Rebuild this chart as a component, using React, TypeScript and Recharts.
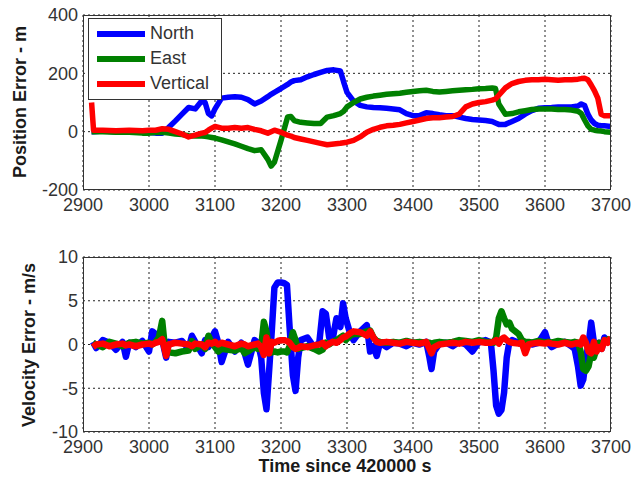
import { LineChart, Line, XAxis, YAxis, CartesianGrid, Legend } from 'recharts'

// top plot: position error (m)
const tTop = [
  2913, 2916, 2930, 2950, 2970, 2990, 3000, 3010, 3020, 3030,
  3040, 3050, 3060, 3070, 3080, 3085, 3090, 3095, 3100, 3110,
  3120, 3130, 3140, 3150, 3160, 3170, 3180, 3185, 3190, 3200,
  3210, 3215, 3220, 3230, 3240, 3250, 3260, 3270, 3280, 3290,
  3295, 3300, 3310, 3320, 3330, 3340, 3350, 3360, 3370, 3380,
  3390, 3400, 3410, 3420, 3430, 3440, 3450, 3460, 3470, 3480,
  3490, 3500, 3510, 3520, 3525, 3530, 3540, 3550, 3560, 3570,
  3580, 3590, 3600, 3610, 3620, 3630, 3640, 3650, 3655, 3660,
  3665, 3670, 3675, 3680, 3685, 3690, 3700,
]
const posNorth = [
  0, 0, 2, 0, 0, 0, -3, -5, -5, 15,
  37, 60, 83, 78, 106, 100, 62, 54, 78, 115,
  118, 120, 118, 110, 95, 105, 120, 128, 135, 148,
  162, 170, 175, 178, 188, 196, 203, 210, 212, 208,
  170, 135, 105, 90, 85, 83, 82, 80, 78, 75,
  62, 55, 55, 65, 62, 58, 55, 55, 50, 45,
  42, 40, 38, 35, 30, 25, 25, 35, 45, 60,
  72, 80, 82, 83, 85, 85, 85, 88, 95, 90,
  60, 40, 28, 22, 20, 20, 18,
]
const posEast = [
  0, 0, 0, -2, -2, -5, -5, -3, -2, -5,
  -8, -10, -14, -15, -15, -16, -18, -20, -22, -28,
  -35, -42, -50, -58, -65, -62, -95, -118, -105, -30,
  50, 52, 38, 32, 30, 28, 28, 50, 55, 62,
  70, 85, 100, 112, 118, 122, 125, 128, 130, 132,
  135, 138, 140, 142, 138, 136, 138, 140, 142, 144,
  145, 147, 148, 150, 148, 95, 60, 62, 68, 72,
  76, 78, 78, 78, 76, 76, 74, 70, 62, 40,
  20, 8, 5, 3, 2, 0, -2,
]
const posVertical = [
  100, 5, 5, 3, 5, 3, 5, 5, 10, 8,
  0, -8, -18, -12, -5, -3, 5, 12, 18, 12,
  12, 14, 12, 14, 8, 3, -5, 0, 5, -2,
  -12, -15, -20, -25, -30, -35, -40, -45, -42, -40,
  -38, -36, -30, -18, -2, 8, 15, 20, 22, 25,
  30, 35, 40, 45, 48, 48, 50, 52, 60, 85,
  95, 100, 103, 108, 112, 125, 150, 165, 172, 176,
  178, 178, 180, 178, 176, 178, 178, 180, 182, 183,
  178, 160, 140, 115, 60, 55, 55,
]

// bottom plot: velocity error (m/s)
const tBot = [
  2915, 2920, 2930, 2940, 2950, 2960, 2965, 2970, 2980, 2990,
  3000, 3005, 3010, 3015, 3020, 3023, 3026, 3030, 3040, 3050,
  3060, 3065, 3070, 3080, 3085, 3090, 3095, 3100, 3105, 3110,
  3120, 3130, 3140, 3145, 3150, 3160, 3165, 3170, 3174, 3178,
  3182, 3186, 3190, 3195, 3200, 3205, 3209, 3213, 3218, 3222,
  3226, 3230, 3240, 3250, 3258, 3263, 3268, 3273, 3278, 3284,
  3290, 3294, 3298, 3305, 3310, 3320, 3330, 3335, 3340, 3345,
  3350, 3360, 3370, 3380, 3390, 3400, 3410, 3420, 3425, 3428,
  3432, 3440, 3450, 3460, 3470, 3480, 3490, 3500, 3510, 3518,
  3522, 3526, 3530, 3534, 3538, 3542, 3546, 3550, 3560, 3565,
  3570, 3575, 3580, 3590, 3600, 3605, 3610, 3620, 3630, 3640,
  3645, 3650, 3654, 3658, 3662, 3666, 3670, 3674, 3678, 3682,
  3686, 3690, 3695, 3700,
]
const velNorth = [
  0.3, -0.4, 0.5, 0.2, -0.6, 0.3, -1.4, 0.2, -0.3, 0.4,
  -0.8, 1.5, 1.2, 0.4, 0.6, -0.5, -1.5, 0.3, 0.2, 0.4,
  -0.5, 1.0, 0.3, -1.0, 0.5, -0.3, 0.8, 1.5, 0.2, -2.0,
  0.3, -0.8, 0.2, -1.0, -2.3, 0.5, 0.2, -1.5, -5.5, -7.4,
  -3.0, 1.5, 6.5, 7.1, 7.1, 7.0, 6.8, 2.0, -3.5, -5.3,
  -1.5, 0.5, 0.8, -0.3, 0.2, 3.8, 3.5, 0.8, 0.5, 3.0,
  2.0, 4.7, 3.0, 1.2, 0.5, 1.5, 2.2, -0.8, -0.2, -1.3,
  0.2, -0.3, 0.2, 0.1, -0.2, 0.2, 0.0, 0.3, -1.5, -2.8,
  -0.8, 0.1, 0.2, -0.2, 0.3, 0.0, -0.8, 0.3, 0.5, 0.2,
  -3.0, -7.0, -7.9, -7.5, -5.5, -1.5, 0.3, 0.5, 0.2, 0.0,
  -0.5, 0.2, 0.0, 0.2, 1.4, 0.2, -0.3, 0.1, 0.3, -0.2,
  -0.5, -2.5, -4.7, -4.0, -1.5, 0.0, 2.5, 0.3, -0.5, 0.2,
  -0.5, 0.8, 0.3, 0.5,
]
const velEast = [
  0.2, 0.0, -0.3, 0.3, 0.1, -0.2, 0.0, 0.2, 0.3, 0.1,
  0.2, 0.0, 0.3, 0.8, 2.7, 0.5, -0.8, -0.9, -1.0, -0.8,
  -0.7, 0.4, -0.5, 0.0, -0.5, 1.0, 0.2, -0.3, -0.8, -0.5,
  -0.6, -0.7, -0.4, -1.0, -0.8, -0.3, -0.5, -0.2, 2.6, 1.5,
  -1.0, -0.9, -0.8, -0.9, -0.8, -0.8, -0.9, -0.2, 1.4, 0.5,
  -0.5, -0.4, -0.2, -0.5, -0.8, -0.6, 0.2, 0.0, 0.3, 0.5,
  0.8, 1.0, 0.5, 1.0, 1.2, 1.2, 1.5, 1.6, 0.8, 0.4,
  0.3, 0.2, 0.3, 0.2, 0.4, 0.2, 0.3, 0.2, 0.2, 0.1,
  0.2, 0.3, 0.2, 0.3, 0.5, 0.4, 0.3, 0.5, 0.3, 0.3,
  0.2, 0.8, 3.0, 3.8, 3.0, 2.3, 2.5, 1.8, 1.2, 0.5,
  0.3, 0.3, 0.2, 0.4, 0.2, 0.3, 0.2, 0.4, 0.3, 0.2,
  0.3, 0.2, -0.8, -2.8, -3.0, -2.5, -1.0, -1.5, -0.5, 0.2,
  -0.2, 0.4, 0.6, 0.5,
]
const velVertical = [
  -0.3, 0.0, 0.1, -0.2, 0.0, 0.1, -0.1, 0.0, -0.2, 0.0,
  0.1, 0.0, 0.2, 0.3, 0.6, -0.3, -1.3, 0.0, 0.2, 0.1,
  0.0, -0.2, 0.1, 0.0, -0.3, 0.2, 0.1, 0.3, 0.0, 0.2,
  0.0, -0.2, 0.1, 0.0, -0.2, 0.0, 0.1, -0.3, -1.2, 0.8,
  -1.0, 0.3, 0.2, 0.4, 0.5, 0.5, 0.4, 0.2, -0.3, -0.5,
  -0.4, -0.2, -0.3, -0.1, 0.0, 0.2, -0.2, 0.1, 0.3, 0.2,
  0.5, 0.8, 0.9, 1.3, 1.5, 1.4, 1.0, 1.5, 0.8, 0.3,
  0.2, 0.3, 0.2, 0.1, 0.3, 0.2, 0.1, 0.3, -0.5, -1.0,
  -0.3, 0.0, 0.1, 0.2, 0.1, 0.3, 0.2, 0.3, 0.2, 0.2,
  0.3, 0.5, 0.1, 0.6, 0.8, 0.5, 0.3, 0.2, 0.1, 0.2,
  -1.0, 0.0, 0.1, 0.2, 0.1, 0.2, 0.1, 0.0, 0.2, 0.0,
  0.1, 0.2, 0.0, 0.8, 0.2, -0.8, -1.0, 0.3, -0.8, -0.3,
  -0.5, 0.5, 0.2, 0.8,
]

const seriesNames = ['North', 'East', 'Vertical']
const timeTicks = [2900, 3000, 3100, 3200, 3300, 3400, 3500, 3600, 3700]
const posTicks = [-200, 0, 200, 400]
const velTicks = [-10, -5, 0, 5, 10]

const posData = tTop.map((t, i) => ({ t, north: posNorth[i], east: posEast[i], vertical: posVertical[i] }))
const velData = tBot.map((t, i) => ({ t, north: velNorth[i], east: velEast[i], vertical: velVertical[i] }))

const FONT = '"Liberation Sans", Arial, sans-serif'
const BLUE = '#0000ff'
const GREEN = '#008000'
const RED = '#ff0000'
const tickStyle = { fontSize: 18, fill: '#333', fontFamily: FONT }

const renderLegend = (props: any) => {
  const items = [...(props.payload || [])].sort(
    (a: any, b: any) => seriesNames.indexOf(a.value) - seriesNames.indexOf(b.value)
  )
  return (
    <div style={{ width: 134, height: 82, boxSizing: 'border-box', border: '1px solid #333', background: '#fff', paddingTop: 2, fontFamily: FONT }}>
      {items.map((it: any) => (
        <div key={it.value} style={{ display: 'flex', alignItems: 'center', height: 25, paddingLeft: 8 }}>
          <div style={{ width: 48, height: 6, background: it.color, marginRight: 5 }} />
          <span style={{ fontSize: 18, color: '#333' }}>{it.value}</span>
        </div>
      ))}
    </div>
  )
}

function PlotBox({ top }: { top: number }) {
  return (
    <div style={{ position: 'absolute', left: 83, top, width: 528, height: 175, boxSizing: 'border-box', border: '1px solid #333', pointerEvents: 'none' }} />
  )
}

function YLabel({ text, cx, cy }: { text: string; cx: number; cy: number }) {
  return (
    <div style={{ position: 'absolute', left: cx - 110, top: cy - 11, width: 220, height: 22, lineHeight: '22px', textAlign: 'center', transform: 'rotate(-90deg)', fontFamily: FONT, fontWeight: 'bold', fontSize: 18, color: '#1a1a1a' }}>
      {text}
    </div>
  )
}

export default function App() {
  return (
    <div style={{ position: 'absolute', left: 0, top: 0, width: 633, height: 481, background: '#fff', overflow: 'hidden' }}>
      <div style={{ position: 'absolute', left: 0, top: 0 }}>
        <LineChart width={633} height={240} data={posData} margin={{ top: 15, right: 22, bottom: 0, left: 0 }}>
          <CartesianGrid stroke="#222" strokeDasharray="2 3" />
          <XAxis dataKey="t" type="number" domain={[2900, 3700]} ticks={timeTicks} allowDataOverflow
            height={50} tickLine={false} axisLine={false} tickSize={0} tickMargin={8} tick={tickStyle} />
          <YAxis type="number" domain={[-200, 400]} ticks={posTicks} allowDataOverflow
            width={83} tickLine={false} axisLine={false} tickSize={0} tickMargin={5} tick={tickStyle} />
          <Legend layout="vertical" align="center" verticalAlign="middle" content={renderLegend}
            wrapperStyle={{ position: 'absolute', top: 18, left: 88, width: 'auto', height: 'auto' }} />
          <Line dataKey="north" name="North" stroke={BLUE} strokeWidth={5.5} dot={false} isAnimationActive={false} strokeLinejoin="round" />
          <Line dataKey="east" name="East" stroke={GREEN} strokeWidth={5.5} dot={false} isAnimationActive={false} strokeLinejoin="round" />
          <Line dataKey="vertical" name="Vertical" stroke={RED} strokeWidth={5.5} dot={false} isAnimationActive={false} strokeLinejoin="round" />
        </LineChart>
      </div>
      <PlotBox top={15} />

      <div style={{ position: 'absolute', left: 0, top: 240 }}>
        <LineChart width={633} height={241} data={velData} margin={{ top: 17, right: 22, bottom: 0, left: 0 }}>
          <CartesianGrid stroke="#222" strokeDasharray="2 3" />
          <XAxis dataKey="t" type="number" domain={[2900, 3700]} ticks={timeTicks} allowDataOverflow
            height={49} tickLine={false} axisLine={false} tickSize={0} tickMargin={8} tick={tickStyle} />
          <YAxis type="number" domain={[-10, 10]} ticks={velTicks} allowDataOverflow
            width={83} tickLine={false} axisLine={false} tickSize={0} tickMargin={5} tick={tickStyle} />
          <Line dataKey="north" stroke={BLUE} strokeWidth={6.5} dot={false} isAnimationActive={false} strokeLinejoin="round" />
          <Line dataKey="east" stroke={GREEN} strokeWidth={6.5} dot={false} isAnimationActive={false} strokeLinejoin="round" />
          <Line dataKey="vertical" stroke={RED} strokeWidth={6.5} dot={false} isAnimationActive={false} strokeLinejoin="round" />
        </LineChart>
      </div>
      <PlotBox top={257} />

      <YLabel text="Position Error - m" cx={20} cy={102} />
      <YLabel text="Velocity Error - m/s" cx={29} cy={345} />
      <div style={{ position: 'absolute', left: 145, top: 456, width: 400, textAlign: 'center', fontFamily: FONT, fontWeight: 'bold', fontSize: 18, color: '#1a1a1a' }}>
        Time since 420000 s
      </div>
    </div>
  )
}
